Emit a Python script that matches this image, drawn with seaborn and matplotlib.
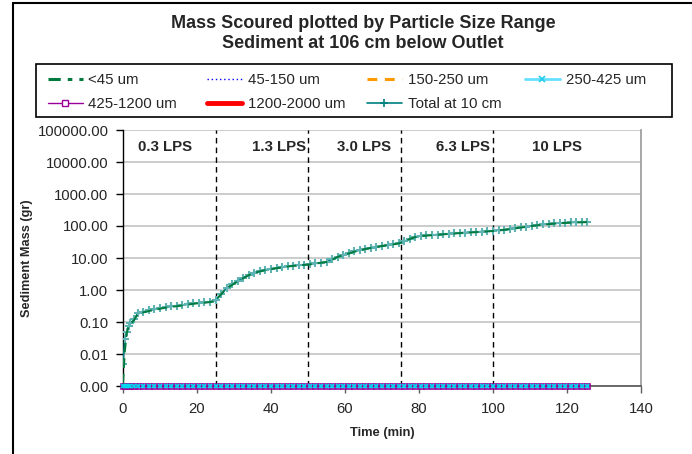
import numpy as np
import pandas as pd
import matplotlib
matplotlib.use("Agg")
import matplotlib.pyplot as plt
import matplotlib.transforms as mtransforms
from matplotlib.lines import Line2D
from matplotlib.patches import Rectangle
from matplotlib.ticker import FixedLocator, FuncFormatter, NullLocator
import seaborn as sns

# ---------------- data ----------------
time_min = [0, 0.5, 1, 1.5, 2, 3, 4,
            5.5, 7, 8.5, 10, 11.5, 13, 14.5, 16, 17.5, 19, 20.5, 22, 23.5, 25,
            26.5, 28, 29.5, 31, 32.5, 34, 35.5, 37, 38.5, 40, 41.5, 43, 44.5, 46,
            47.5, 49, 50.5, 52, 53.5, 55, 56.5, 58, 59.5, 61, 62.5, 64, 65.5, 67,
            68.5, 70, 71.5, 73, 74.5, 76, 77.5, 79, 80.5, 82, 83.5, 85, 86.5, 88,
            89.5, 91, 92.5, 94, 95.5, 97, 98.5, 100, 101.5, 103, 104.5, 106, 107.5,
            109, 110.5, 112, 113.5, 115, 116.5, 118, 119.5, 121, 122.5, 124, 125.5]

total_10cm = [0.005, 0.03, 0.05, 0.075, 0.09, 0.12, 0.19,
              0.21, 0.23, 0.25, 0.27, 0.29, 0.31, 0.32, 0.34, 0.36, 0.38, 0.40, 0.41, 0.43, 0.47,
              0.75, 1.15, 1.5, 1.9, 2.4, 3.0, 3.5, 3.9, 4.3, 4.6, 4.9, 5.2, 5.5, 5.8,
              6.0, 6.2, 6.4, 6.8, 7.2, 7.6, 9.0, 11.0, 12.5, 14.0, 16.0, 17.5, 19.5, 21.0,
              22.5, 24.0, 25.5, 27.0, 29.0, 33.0, 40.0, 46.0, 49.0, 51.0, 52.5, 54.0, 56.0, 57.5,
              59.0, 61.0, 62.5, 64.0, 65.5, 67.0, 69.0, 71.0, 74.0, 77.0, 81.0, 86.0, 91.0,
              96.0, 102.0, 107.0, 112.0, 116.0, 120.0, 124.0, 127.0, 129.0, 131.0, 133.0, 135.0]

lt45 = [0.0012, 0.012, 0.045, 0.07, 0.085, 0.115, 0.18,
        0.20, 0.22, 0.24, 0.26, 0.28, 0.30, 0.31, 0.33, 0.35, 0.37, 0.39, 0.40, 0.42, 0.46,
        0.73, 1.12, 1.45, 1.85, 2.35, 2.9, 3.4, 3.8, 4.2, 4.5, 4.8, 5.1, 5.4, 5.7,
        5.9, 6.1, 6.3, 6.7, 7.1, 7.5, 8.8, 10.8, 12.3, 13.8, 15.7, 17.2, 19.2, 20.6,
        22.1, 23.6, 25.1, 26.6, 28.5, 32.5, 39.3, 45.2, 48.2, 50.1, 51.6, 53.1, 55.0, 56.5,
        58.0, 60.0, 61.4, 62.9, 64.4, 65.9, 67.8, 69.8, 72.7, 75.7, 79.6, 84.5, 89.4,
        94.4, 100.3, 105.2, 110.1, 114.0, 118.0, 121.9, 124.9, 126.8, 128.8, 130.8, 132.7]

# the coarser fractions sit at the bottom of the log axis (0.00)
bottom_value = 0.001
size_45_150 = [bottom_value] * len(time_min)
size_150_250 = [bottom_value] * len(time_min)
size_250_425 = [bottom_value] * len(time_min)
size_425_1200 = [bottom_value] * len(time_min)
size_1200_2000 = [bottom_value] * len(time_min)

flow_breaks = [25, 50, 75, 100]
flow_labels = ["0.3 LPS", "1.3 LPS", "3.0 LPS", "6.3 LPS", "10 LPS"]
flow_label_x = [11.3, 42.2, 65.1, 91.9, 117.3]

y_ticks = [0.001, 0.01, 0.1, 1, 10, 100, 1000, 10000, 100000]
x_ticks = [0, 20, 40, 60, 80, 100, 120, 140]

# ---------------- style ----------------
sns.set_style("white")
plt.rcParams["font.family"] = ["Liberation Sans", "DejaVu Sans"]

W, H = 692, 454
fig = plt.figure(figsize=(W / 100, H / 100), dpi=100)
L, R, T, B = 123, 641, 130, 386
ax = fig.add_axes([L / W, 1 - B / H, (R - L) / W, (B - T) / H])

df = pd.DataFrame({"t": time_min, "total": total_10cm, "lt45": lt45,
                   "s2": size_45_150, "s3": size_150_250, "s4": size_250_425,
                   "s5": size_425_1200, "s6": size_1200_2000})

teal = "#008080"
sns.lineplot(data=df, x="t", y="s6", ax=ax, color="#ff0000", lw=1.5, clip_on=False, zorder=3)
sns.lineplot(data=df, x="t", y="s3", ax=ax, color="#ff9900", lw=1.5, clip_on=False, zorder=3)
sns.lineplot(data=df, x="t", y="s2", ax=ax, color="#0000ff", lw=1, clip_on=False, zorder=3)
sns.lineplot(data=df, x="t", y="s4", ax=ax, color="#33ddff", lw=2.5, clip_on=False, zorder=4)
sns.lineplot(data=df, x="t", y="s5", ax=ax, color="#990099", lw=1, marker="s", markersize=3.6,
             markerfacecolor="none", markeredgecolor="#990099", markeredgewidth=1.2,
             clip_on=False, zorder=5)
sns.lineplot(data=df, x="t", y="s4", ax=ax, color="#33ddff", lw=0, marker="x", markersize=2.6,
             markeredgewidth=1.2, markeredgecolor="#00d8f0", clip_on=False, zorder=6)
sns.lineplot(data=df, x="t", y="total", ax=ax, color=teal, lw=1.2, marker="+", markersize=6,
             markeredgewidth=1.5, markeredgecolor="#5fb3b3", zorder=7)
sns.lineplot(data=df, x="t", y="lt45", ax=ax, color="#007a3d", lw=1.4, zorder=8)
ax.lines[-1].set_dashes([5, 3])

ax.set_yscale("log")
ax.set_ylim(0.001, 100000)
ax.set_xlim(0, 140)
ax.yaxis.set_major_locator(FixedLocator(y_ticks))
ax.yaxis.set_minor_locator(NullLocator())
ax.yaxis.set_major_formatter(FuncFormatter(lambda v, p: f"{v:.2f}"))
ax.xaxis.set_major_locator(FixedLocator(x_ticks))
ax.set_xlabel("")
ax.set_ylabel("")

ax.grid(axis="y", color="#c8c8c8", lw=1.3)
ax.grid(axis="x", visible=False)
ax.set_axisbelow(True)
ax.spines["top"].set_visible(False)
ax.spines["right"].set_color("#a0a0a0")
ax.spines["left"].set_color("black")
ax.spines["bottom"].set_color("#606060")
ax.spines["left"].set_linewidth(1.0)
ax.spines["bottom"].set_linewidth(1.3)
ax.spines["right"].set_linewidth(1.3)
ax.tick_params(axis="y", which="major", direction="out", length=5, width=1,
               color="black", labelsize=10.7, pad=5.5, left=True)
ax.tick_params(axis="x", which="major", direction="out", length=5, width=1,
               color="#606060", labelsize=10.7, pad=6.5, bottom=True)

for xb in flow_breaks:
    ax.axvline(xb, color="black", lw=1, ls=(0, (4, 3)), zorder=2)

trans = mtransforms.blended_transform_factory(ax.transData, ax.transAxes)
for lx, lab in zip(flow_label_x, flow_labels):
    ax.text(lx, 0.935, lab, transform=trans, ha="center", va="center",
            fontsize=10.8, fontweight="bold")

# titles and axis labels
fig.text(363 / W, 1 - 23 / H, "Mass Scoured plotted by Particle Size Range",
         ha="center", va="center", fontsize=13, fontweight="bold")
fig.text(363 / W, 1 - 43.5 / H, "Sediment at 106 cm below Outlet",
         ha="center", va="center", fontsize=13, fontweight="bold")
fig.text(382 / W, 1 - 433 / H, "Time (min)", ha="center", va="center",
         fontsize=9.3, fontweight="bold")
fig.text(27 / W, 1 - 258 / H, "Sediment Mass (gr)", ha="center", va="center",
         rotation=90, fontsize=9.2, fontweight="bold")

# legend: four equal-width columns, as in the original
h_lt45 = Line2D([], [], color="#007a3d", lw=2.2, dashes=[4.0, 2.3, 1.5, 2.3, 1.5, 2.3])
h_45 = Line2D([], [], color="#0000ff", lw=1, ls=(0, (1, 2)))
h_150 = Line2D([], [], color="#ff9900", lw=2.2, dashes=[3.2, 2.5])
h_250 = Line2D([], [], color="#66e0ff", lw=2, marker="x", markersize=4,
               markeredgecolor="#22ccee", markeredgewidth=1.2)
h_425 = Line2D([], [], color="#990099", lw=1, marker="s", markersize=4.5,
               markerfacecolor="white", markeredgecolor="#990099")
h_1200 = Line2D([], [], color="#ff0000", lw=3.5)
h_tot = Line2D([], [], color=teal, lw=1.2, marker="+", markersize=6,
               markeredgewidth=1.2)
legend_columns = [
    ([h_lt45, h_425], ["<45 um", "425-1200 um"]),
    ([h_45, h_1200], ["45-150 um", "1200-2000 um"]),
    ([h_150, h_tot], ["150-250 um", "Total at 10 cm"]),
    ([h_250], ["250-425 um"]),
]
col_x = [48, 207, 367, 525]
for (hs, ls), cx in zip(legend_columns, col_x):
    fig.legend(hs, ls, loc="upper left", bbox_to_anchor=(cx / W, 1 - 73 / H),
               frameon=False, fontsize=10.8, handlelength=2.3, handletextpad=0.4,
               labelspacing=0.7, borderpad=0, borderaxespad=0)
fig.patches.append(Rectangle((36 / W, 1 - 117 / H), (672 - 36) / W, (117 - 64) / H,
                             transform=fig.transFigure, fill=False,
                             edgecolor="black", lw=1.2))

# outer chart border (left and top edges visible)
fig.lines.append(Line2D([12.7 / W, 12.7 / W], [0, 1 - 2.7 / H],
                        transform=fig.transFigure, color="black", lw=1.5))
fig.lines.append(Line2D([12.7 / W, 1], [1 - 2.7 / H, 1 - 2.7 / H],
                        transform=fig.transFigure, color="black", lw=1.5))

fig.savefig("out.png", dpi=100)
